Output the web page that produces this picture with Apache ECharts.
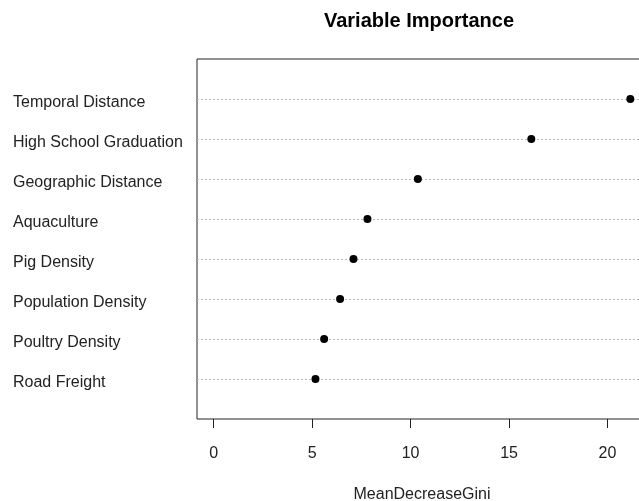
<!DOCTYPE html>
<html>
<head>
<meta charset="utf-8">
<script src="https://cdn.jsdelivr.net/npm/echarts@6/dist/echarts.min.js"></script>
<style>html,body{margin:0;padding:0;background:#fff;overflow:hidden;width:639px;height:501px;}#c{width:647px;height:501px;}</style>
</head>
<body>
<div id="c"></div>
<script>
// Categories from bottom to top
const categories = ["Road Freight", "Poultry Density", "Population Density", "Pig Density", "Aquaculture", "Geographic Distance", "High School Graduation", "Temporal Distance"];
const values = [5.17, 5.61, 6.42, 7.10, 7.81, 10.37, 16.13, 21.16];
const xTicks = [0, 5, 10, 15, 20];
const titleText = "Variable Importance";
const xName = "MeanDecreaseGini";

const chart = echarts.init(document.getElementById('c'), null, {renderer: 'canvas'});
const FONT = 'Liberation Sans, Arial, sans-serif';
const xMax = Math.max(...values);
const pad = 0.04 * xMax;
const yPos = categories.map((c, i) => i + 1);
const labelShift = 0.1; // labels sit slightly below their dotted line

chart.setOption({
  animation: false,
  backgroundColor: '#fff',
  title: {
    text: titleText, left: 414, top: 6, textAlign: 'center',
    textStyle: {fontFamily: FONT, fontSize: 20, fontWeight: 'bold', color: '#000'}
  },
  grid: {left: 197, top: 59, right: 0, bottom: 82, containLabel: false, outerBoundsMode: 'none',
         show: true, borderColor: '#222', borderWidth: 1, backgroundColor: 'transparent'},
  xAxis: {
    type: 'value', min: -pad, max: xMax + pad,
    axisLine: {show: false},
    splitLine: {show: false},
    axisTick: {show: true, length: 9, customValues: xTicks, lineStyle: {color: '#222'}},
    axisLabel: {customValues: xTicks, margin: 27, fontFamily: FONT, fontSize: 16, color: '#222'},
    name: xName, nameLocation: 'middle', nameGap: 68,
    nameTextStyle: {fontFamily: FONT, fontSize: 16, color: '#222'}
  },
  yAxis: [{
    type: 'value', min: 0, max: categories.length + 1, interval: 1,
    axisLine: {show: false}, axisTick: {show: false}, splitLine: {show: false},
    axisLabel: {show: false}
  }, {
    type: 'value', position: 'left', min: labelShift, max: categories.length + 1 + labelShift,
    axisLine: {show: false}, axisTick: {show: false}, splitLine: {show: false},
    axisLabel: {
      customValues: yPos,
      align: 'left', margin: 184,
      fontFamily: FONT, fontSize: 16, color: '#222',
      formatter: v => categories[Math.round(v) - 1] || ''
    }
  }],
  series: [{
    type: 'line', data: [], z: 1, silent: true,
    markLine: {
      silent: true, symbol: 'none', label: {show: false},
      lineStyle: {color: '#b8b8b8', type: [2, 2], width: 1},
      data: yPos.map(p => ({yAxis: p}))
    }
  }, {
    type: 'scatter', symbol: 'circle', symbolSize: 8,
    itemStyle: {color: '#000', opacity: 1},
    data: values.map((v, i) => [v, yPos[i]]),
    z: 5
  }]
});
</script>
</body>
</html>
